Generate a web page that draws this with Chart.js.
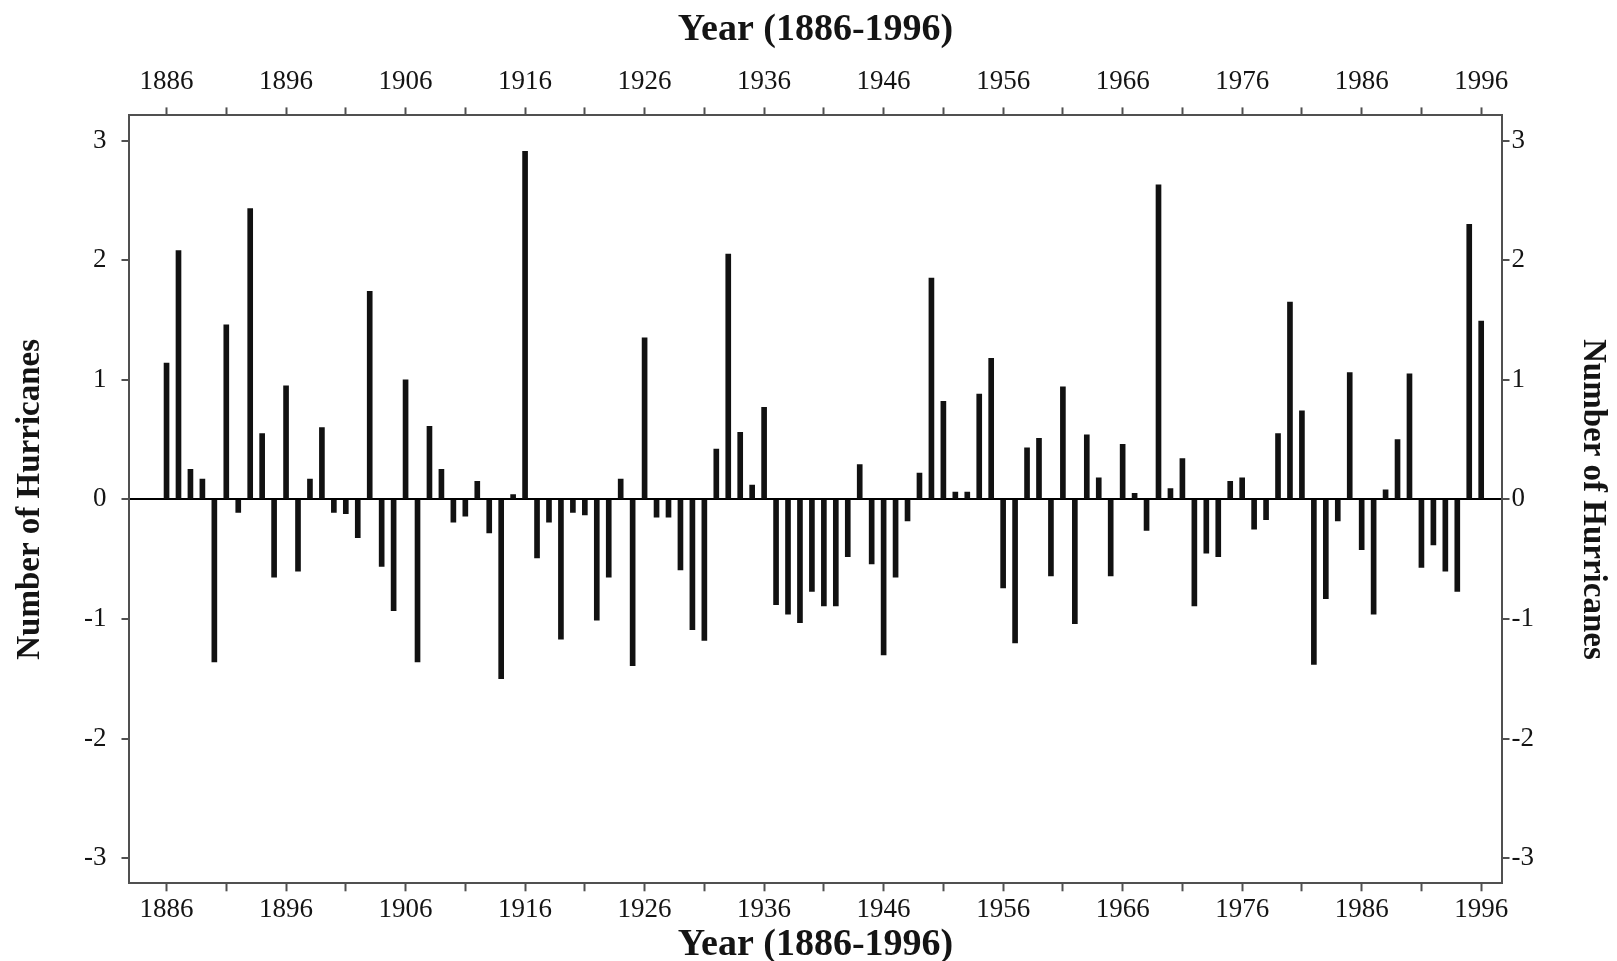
<!DOCTYPE html>
<html>
<head>
<meta charset="utf-8">
<title>Number of Hurricanes 1886-1996</title>
<script src="https://cdn.jsdelivr.net/npm/chart.js@4.4.0/dist/chart.umd.min.js"></script>
<style>
  html, body { margin: 0; padding: 0; background: #fff; overflow: hidden; }
  #wrap { width: 1617px; height: 961px; }
</style>
</head>
<body>
<div id="wrap"><canvas id="hurricaneChart" width="1617" height="961"></canvas></div>
<script>
// yearly hurricane count anomaly, 1886 .. 1996
const firstYear = 1886;
const hurricaneAnomaly = [
  1.14, 2.08, 0.25, 0.17, -1.36, 1.46, -0.11, 2.43, 0.55, -0.65,
  0.95, -0.60, 0.17, 0.60, -0.11, -0.12, -0.32, 1.74, -0.56, -0.93,
  1.00, -1.36, 0.61, 0.25, -0.19, -0.14, 0.15, -0.28, -1.50, 0.04,
  2.91, -0.49, -0.19, -1.17, -0.11, -0.13, -1.01, -0.65, 0.17, -1.39,
  1.35, -0.15, -0.15, -0.59, -1.09, -1.18, 0.42, 2.05, 0.56, 0.12,
  0.77, -0.88, -0.96, -1.03, -0.77, -0.89, -0.89, -0.48, 0.29, -0.54,
  -1.30, -0.65, -0.18, 0.22, 1.85, 0.82, 0.06, 0.06, 0.88, 1.18,
  -0.74, -1.20, 0.43, 0.51, -0.64, 0.94, -1.04, 0.54, 0.18, -0.64,
  0.46, 0.05, -0.26, 2.63, 0.09, 0.34, -0.89, -0.45, -0.48, 0.15,
  0.18, -0.25, -0.17, 0.55, 1.65, 0.74, -1.38, -0.83, -0.18, 1.06,
  -0.42, -0.96, 0.08, 0.50, 1.05, -0.57, -0.38, -0.60, -0.77, 2.30,
  1.49
];
const years = hurricaneAnomaly.map((_, i) => firstYear + i);

// axis ticks
const labelYears = [1886, 1896, 1906, 1916, 1926, 1936, 1946, 1956, 1966, 1976, 1986, 1996];
const minorYears = [1891, 1901, 1911, 1921, 1931, 1941, 1951, 1961, 1971, 1981, 1991];
const countTicks = [-3, -2, -1, 0, 1, 2, 3];

const xTickYears = labelYears.concat(minorYears).sort((a, b) => a - b);
const xMin = 1882.9, xMax = 1997.7;
const yMin = -3.21, yMax = 3.21;

const FONT = '"Liberation Serif", "Times New Roman", "DejaVu Serif", serif';
const AXIS_GREY = '#505050';
const TEXT = '#141414';

function yearAxis(position) {
  const isTop = position === 'top';
  return {
    type: 'linear',
    position: position,
    offset: false,
    min: xMin,
    max: xMax,
    afterBuildTicks: scale => { scale.ticks = xTickYears.map(v => ({ value: v })); },
    ticks: {
      autoSkip: false,
      maxRotation: 0,
      minRotation: 0,
      padding: isTop ? 9 : 2,
      color: TEXT,
      font: { family: FONT, size: 27 },
      callback: v => labelYears.includes(v) ? String(v) : ''
    },
    grid: { offset: false, drawOnChartArea: false, drawTicks: true, tickLength: 8, tickColor: AXIS_GREY, tickWidth: 2 },
    border: { display: true, color: AXIS_GREY, width: 2 },
    title: {
      display: true,
      text: 'Year (1886-1996)',
      color: TEXT,
      font: { family: FONT, size: 38, weight: 'bold', lineHeight: isTop ? 1 : 0.85 },
      padding: isTop ? { top: 11, bottom: 8 } : { top: 1, bottom: 0 }
    }
  };
}

function countAxis(position) {
  const isLeft = position === 'left';
  return {
    type: 'linear',
    position: position,
    min: yMin,
    max: yMax,
    afterBuildTicks: scale => { scale.ticks = countTicks.map(v => ({ value: v })); },
    ticks: {
      padding: isLeft ? 15 : 2,
      color: TEXT,
      font: { family: FONT, size: 27 },
      callback: v => String(v)
    },
    grid: {
      // only the zero line is drawn across the plot
      drawOnChartArea: isLeft,
      color: ctx => (ctx.tick && ctx.tick.value === 0) ? '#000' : 'rgba(0,0,0,0)',
      lineWidth: 2,
      tickLength: 8,
      tickColor: AXIS_GREY,
      tickWidth: 2
    },
    border: { display: true, color: AXIS_GREY, width: 2 },
    title: {
      display: true,
      text: 'Number of Hurricanes',
      color: TEXT,
      font: { family: FONT, size: 33, weight: 'bold', lineHeight: 1 },
      padding: isLeft ? { top: 10, bottom: 22 } : { top: 8, bottom: 40 }
    }
  };
}

const ctx = document.getElementById('hurricaneChart');
new Chart(ctx, {
  type: 'bar',
  data: {
    datasets: [{
      label: 'Number of Hurricanes',
      data: years.map((y, i) => ({ x: y, y: hurricaneAnomaly[i] })),
      backgroundColor: '#111',
      borderWidth: 0,
      barThickness: 5,
      xAxisID: 'x',
      yAxisID: 'y'
    }]
  },
  options: {
    responsive: false,
    animation: false,
    layout: { padding: { left: 4, right: 0, top: 0, bottom: 0 } },
    plugins: {
      legend: { display: false },
      tooltip: { enabled: false }
    },
    scales: {
      x: yearAxis('bottom'),
      xTop: yearAxis('top'),
      y: countAxis('left'),
      yRight: countAxis('right')
    }
  }
});
</script>
</body>
</html>
